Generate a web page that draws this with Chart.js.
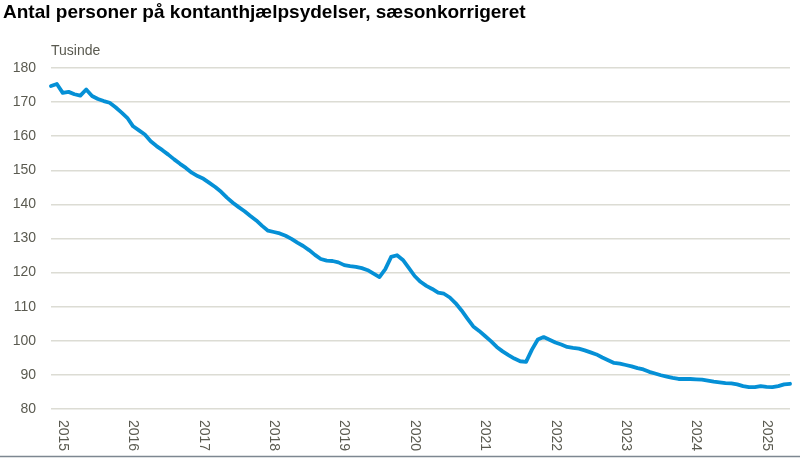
<!DOCTYPE html>
<html>
<head>
<meta charset="utf-8">
<script src="https://cdn.jsdelivr.net/npm/chart.js@4"></script>
<style>
  html, body { margin: 0; padding: 0; background: #fff; }
  #wrap { width: 800px; height: 459px; position: relative; }
</style>
</head>
<body>
<div id="wrap"><canvas id="chart"></canvas></div>
<script>
const titleText = 'Antal personer på kontanthjælpsydelser, sæsonkorrigeret';
const unitText = 'Tusinde';

// monthly, seasonally adjusted, thousands
const values = [
  174.7, 175.3, 172.7, 173.0, 172.3, 171.9, 173.7, 171.8, 170.9, 170.3,
  169.8, 168.5, 167.0, 165.4, 162.9, 161.7, 160.5, 158.5, 157.1, 155.9,
  154.6, 153.2, 151.9, 150.7, 149.3, 148.3, 147.5, 146.3, 145.1, 143.7,
  142.0, 140.5, 139.2, 138.0, 136.6, 135.3, 133.7, 132.3, 131.9, 131.5,
  130.8, 129.9, 128.8, 127.8, 126.6, 125.2, 124.0, 123.5, 123.4, 123.0,
  122.2, 121.9, 121.7, 121.3, 120.7, 119.7, 118.7, 121.0, 124.6, 125.1,
  123.7, 121.4, 119.0, 117.3, 116.1, 115.2, 114.1, 113.8, 112.7, 111.0,
  108.9, 106.5, 104.2, 102.9, 101.4, 99.9, 98.2, 96.9, 95.8, 94.8,
  94.0, 93.8, 97.4, 100.4, 101.1, 100.3, 99.5, 98.9, 98.2, 97.9,
  97.7, 97.2, 96.6, 96.0, 95.1, 94.3, 93.5, 93.3, 92.9, 92.5,
  92.0, 91.6, 90.9, 90.4, 89.9, 89.5, 89.1, 88.8, 88.8, 88.8,
  88.7, 88.6, 88.3, 88.0, 87.8, 87.6, 87.5, 87.2, 86.7, 86.4,
  86.4, 86.7, 86.5, 86.4, 86.7, 87.2, 87.4
];

const yearLabels = ['2015', '2016', '2017', '2018', '2019', '2020', '2021', '2022', '2023', '2024', '2025'];
const yTicks = [80, 90, 100, 110, 120, 130, 140, 150, 160, 170, 180];

// month categories, first observation 2014M11
const months = [];
for (let i = 0; i < values.length; i++) {
  const m = (11 - 1 + i) % 12 + 1;
  const y = 2014 + Math.floor((11 - 1 + i) / 12);
  months.push(y + 'M' + String(m).padStart(2, '0'));
}

const FONT = '"Liberation Sans", Arial, sans-serif';
const TEXT = '#5a5a50';

const decor = {
  id: 'decor',
  afterDraw(chart) {
    const { ctx, chartArea, scales: { x } } = chart;
    ctx.save();

    ctx.fillStyle = '#000';
    ctx.font = 'bold 19px ' + FONT;
    ctx.textBaseline = 'alphabetic';
    ctx.textAlign = 'left';
    ctx.fillText(titleText, 3, 18);

    ctx.fillStyle = TEXT;
    ctx.font = '14px ' + FONT;
    ctx.fillText(unitText, chartArea.left, 55);

    // year labels, rotated to read top to bottom
    yearLabels.forEach(yr => {
      const idx = months.indexOf(yr + 'M01');
      if (idx < 0) return;
      const px = x.getPixelForValue(idx);
      ctx.save();
      ctx.translate(px, chartArea.bottom + 11);
      ctx.rotate(Math.PI / 2);
      ctx.textAlign = 'left';
      ctx.textBaseline = 'middle';
      ctx.fillText(yr, 0, 0);
      ctx.restore();
    });

    ctx.strokeStyle = '#7d8791';
    ctx.lineWidth = 1.5;
    ctx.beginPath();
    ctx.moveTo(0, 456.5);
    ctx.lineTo(800, 456.5);
    ctx.stroke();
    ctx.restore();
  }
};

new Chart(document.getElementById('chart'), {
  type: 'line',
  data: {
    labels: months,
    datasets: [{
      data: values,
      borderColor: '#0590d6',
      borderWidth: 3.8,
      pointRadius: 0,
      borderJoinStyle: 'round',
      borderCapStyle: 'round',
      tension: 0,
    }],
  },
  options: {
    responsive: true,
    maintainAspectRatio: false,
    animation: false,
    layout: { padding: { top: 68, right: 10, left: 0, bottom: 0 } },
    plugins: {
      legend: { display: false },
      tooltip: { enabled: false },
    },
    scales: {
      x: {
        grid: { display: false },
        border: { display: false },
        ticks: { display: false },
        afterFit(scale) { scale.height = 50; },
      },
      y: {
        min: 80,
        max: 180,
        afterBuildTicks(scale) { scale.ticks = yTicks.map(v => ({ value: v })); },
        grid: { color: '#dcdcd4', lineWidth: 1.5, drawTicks: false },
        border: { display: false },
        ticks: {
          color: TEXT,
          padding: 15,
          font: { family: FONT, size: 14 },
        },
        afterFit(scale) { scale.width = 51; },
      },
    },
  },
  plugins: [decor],
});
</script>
</body>
</html>
